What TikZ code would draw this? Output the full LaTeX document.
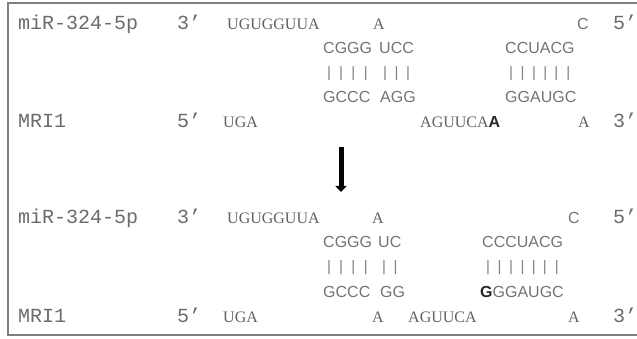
\documentclass[tikz,border=0pt]{standalone}
\usepackage{fontspec}
\setmainfont{Liberation Serif}
\newfontfamily\seqsans{Liberation Sans}
\newfontfamily\labmono{Liberation Mono}
\usetikzlibrary{arrows.meta}

% base-pair bars: one "|" centred under each letter of the strand above
\newlength\pbw
\makeatletter
\newcommand\pairbars[1]{\@tfor\pb@c:=#1\do{%
  \settowidth\pbw{\seqsans\fontsize{16}{16}\selectfont\pb@c}%
  \makebox[\pbw][c]{|}}}
\makeatother

\tikzset{
  lab/.style={anchor=base west, inner sep=0pt, text=black!58,
    font=\labmono\fontsize{20}{20}\selectfont},
  ser/.style={anchor=base west, inner sep=0pt, text=black!62,
    font=\fontsize{16}{16}\selectfont},
  san/.style={anchor=base west, inner sep=0pt, text=black!55,
    font=\seqsans\fontsize{16}{16}\selectfont},
  barrow/.style={anchor=base west, inner sep=0pt, text=black!50,
    font=\seqsans\fontsize{15}{15}\selectfont},
  outline/.style={draw=black!50, line width=1.6pt},
  shiftarrow/.style={draw=black, line width=5pt,
    -{Triangle[width=11pt,length=6pt]}},
}

\begin{document}
\begin{tikzpicture}[x=1pt,y=-1pt]
\useasboundingbox (0,0) rectangle (637,339);

% frame, open on the right
\draw[outline] (652,3) -- (8,3) -- (8,335) -- (652,335);

% ---------- before: miR-324-5p / MRI1 duplex ----------
\node[lab] (mirA)   at (18,29.5)  {miR-324-5p};
\node[lab] (mirA3)  at (177,29.5) {3’};
\node[ser] (mirAt)  at (227,29.5) {UGUGGUUA};
\node[ser] (mirAb)  at (373,29.5) {A};
\node[san] (mirAc)  at (577,29.5) {C};
\node[lab] (mirA5)  at (613,29.5) {5’};

\node[san] (topA1)  at (323,54) {CGGG};
\node[san] (topA2)  at (379,54) {UCC};
\node[san] (topA3)  at (505,54) {CCUACG};

\node[barrow] (barA1) at (323,77.5) {\pairbars{CGGG}};
\node[barrow] (barA2) at (379,77.5) {\pairbars{UCC}};
\node[barrow] (barA3) at (505,77.5) {\pairbars{CCUACG}};

\node[san] (botA1)  at (323,103) {GCCC};
\node[san] (botA2)  at (380,103) {AGG};
\node[san] (botA3)  at (505,103) {GGAUGC};

\node[lab] (mriA)   at (18,128)  {MRI1};
\node[lab] (mriA5)  at (177,128) {5’};
\node[ser] (mriAt)  at (223,128) {UGA};
\node[ser] (mriAl)  at (420,128) {AGUUCA{\seqsans\bfseries\color{black!85}A}};
\node[ser] (mriAe)  at (578,128) {A};
\node[lab] (mriA3)  at (613,128) {3’};

% ---------- transition arrow ----------
\coordinate (arrtop) at (341,147);
\coordinate (arrtip) at (341,192);
\draw[shiftarrow] (arrtop) -- (arrtip);

% ---------- after: miR-324-5p / MRI1 duplex ----------
\node[lab] (mirB)   at (18,223)  {miR-324-5p};
\node[lab] (mirB3)  at (177,223) {3’};
\node[ser] (mirBt)  at (227,223) {UGUGGUUA};
\node[ser] (mirBb)  at (372,223) {A};
\node[san] (mirBc)  at (568,223) {C};
\node[lab] (mirB5)  at (613,223) {5’};

\node[san] (topB1)  at (323,247.8) {CGGG};
\node[san] (topB2)  at (378,247.8) {UC};
\node[san] (topB3)  at (482,247.8) {CCCUACG};

\node[barrow] (barB1) at (323,271.5) {\pairbars{CGGG}};
\node[barrow] (barB2) at (378,271.5) {\pairbars{UC}};
\node[barrow] (barB3) at (482,271.5) {\pairbars{CCCUACG}};

\node[san] (botB1)  at (323,297.4) {GCCC};
\node[san] (botB2)  at (380,297.4) {GG};
\node[san] (botB3)  at (480,297.4) {{\bfseries\color{black!85}G}GGAUGC};

\node[lab] (mriB)   at (18,322.2)  {MRI1};
\node[lab] (mriB5)  at (177,322.2) {5’};
\node[ser] (mriBt)  at (223,322.2) {UGA};
\node[ser] (mriBb)  at (372,322.2) {A};
\node[ser] (mriBl)  at (408,322.2) {AGUUCA};
\node[ser] (mriBe)  at (568,322.2) {A};
\node[lab] (mriB3)  at (613,322.2) {3’};
\end{tikzpicture}
\end{document}
